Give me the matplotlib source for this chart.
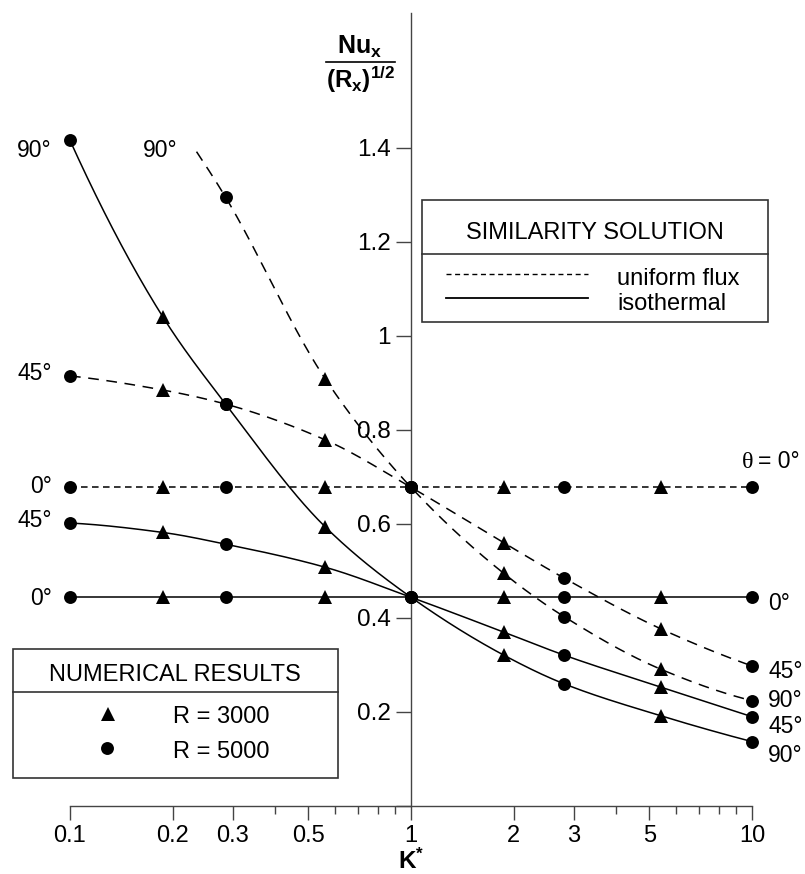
import numpy as np
import matplotlib
matplotlib.use('Agg')
import matplotlib.pyplot as plt
from matplotlib.patches import Rectangle
from matplotlib.ticker import NullFormatter

plt.rcParams['font.family'] = ['Liberation Sans', 'DejaVu Sans']
plt.rcParams['mathtext.fontset'] = 'custom'
plt.rcParams['mathtext.rm'] = 'Liberation Sans'
plt.rcParams['mathtext.bf'] = 'Liberation Sans:bold'
plt.rcParams['mathtext.it'] = 'Liberation Sans:italic'

# ---------------- data ----------------
k_tri = [0.187, 0.56, 1.87, 5.4]          # R = 3000 (triangles)
k_circ = [0.1, 0.286, 1.0, 2.81, 10.0]    # R = 5000 (circles)

# uniform flux (dashed)
flux0_tri = [0.678, 0.678, 0.678, 0.678]
flux0_circ = [0.678, 0.678, 0.678, 0.678, 0.678]
flux45_tri = [0.885, 0.779, 0.560, 0.377]
flux45_circ = [0.915, 0.855, 0.678, 0.485, 0.298]
flux90_k_tri = [0.56, 1.87, 5.4]
flux90_tri = [0.909, 0.495, 0.291]
flux90_k_circ = [0.286, 1.0, 2.81, 10.0]
flux90_circ = [1.295, 0.678, 0.403, 0.224]
flux90_start_k = [0.235]
flux90_start = [1.392]

# isothermal (solid)
iso0_tri = [0.444, 0.444, 0.444, 0.444]
iso0_circ = [0.444, 0.444, 0.444, 0.444, 0.444]
iso45_tri = [0.582, 0.508, 0.370, 0.253]
iso45_circ = [0.602, 0.557, 0.444, 0.321, 0.190]
iso90_tri = [1.041, 0.594, 0.321, 0.192]
iso90_circ = [1.416, 0.855, 0.444, 0.260, 0.137]

x_major = [0.1, 0.2, 0.3, 0.5, 1, 2, 3, 5, 10]
x_major_labels = ['0.1', '0.2', '0.3', '0.5', '1', '2', '3', '5', '10']
x_minor = [0.4, 0.6, 0.7, 0.8, 0.9, 4, 6, 7, 8, 9]
y_ticks = [0, 0.2, 0.4, 0.6, 0.8, 1.0, 1.2, 1.4]
y_labels = ['', '0.2', '0.4', '0.6', '0.8', '1', '1.2', '1.4']

# ---------------- helpers ----------------
def pchip(x, y, xn):
    x = np.asarray(x, float); y = np.asarray(y, float)
    h = np.diff(x); d = np.diff(y) / h
    n = len(x)
    m = np.zeros(n)
    for i in range(1, n - 1):
        if d[i - 1] * d[i] > 0:
            w1 = 2 * h[i] + h[i - 1]; w2 = h[i] + 2 * h[i - 1]
            m[i] = (w1 + w2) / (w1 / d[i - 1] + w2 / d[i])
    def endslope(h0, h1, d0, d1):
        s = ((2 * h0 + h1) * d0 - h0 * d1) / (h0 + h1)
        if np.sign(s) != np.sign(d0):
            s = 0.0
        elif np.sign(d0) != np.sign(d1) and abs(s) > abs(3 * d0):
            s = 3 * d0
        return s
    if n > 2:
        m[0] = endslope(h[0], h[1], d[0], d[1])
        m[-1] = endslope(h[-1], h[-2], d[-1], d[-2])
    else:
        m[:] = d[0]
    idx = np.clip(np.searchsorted(x, xn) - 1, 0, n - 2)
    t = (xn - x[idx]) / h[idx]
    h00 = 2 * t**3 - 3 * t**2 + 1
    h10 = t**3 - 2 * t**2 + t
    h01 = -2 * t**3 + 3 * t**2
    h11 = t**3 - t**2
    return h00 * y[idx] + h10 * h[idx] * m[idx] + h01 * y[idx + 1] + h11 * h[idx] * m[idx + 1]

def curve(ax, ks, vs, **kw):
    pts = sorted(set(zip(ks, vs)))
    k = np.array([p[0] for p in pts]); v = np.array([p[1] for p in pts])
    lk = np.log10(k)
    grid = np.linspace(lk[0], lk[-1], 400)
    ax.plot(10 ** grid, pchip(lk, v, grid), color='black', lw=1.1,
            clip_on=False, zorder=2, **kw)

W, H = 805, 874
fig = plt.figure(figsize=(W / 100, H / 100), dpi=100)
ax = fig.add_axes([70 / W, 1 - 806 / H, 682 / W, 793 / H])
ax.set_xscale('log')
ax.set_xlim(0.1, 10)
ax.set_ylim(0, 1.687)
ax.patch.set_visible(False)

for s in ['top', 'right']:
    ax.spines[s].set_visible(False)
ax.spines['left'].set_position(('data', 1))
for s in ['left', 'bottom']:
    ax.spines[s].set_color('#444444')
    ax.spines[s].set_linewidth(1.0)

ax.set_xticks(x_major)
ax.set_xticklabels(x_major_labels)
ax.set_xticks(x_minor, minor=True)
ax.xaxis.set_minor_formatter(NullFormatter())
ax.tick_params(axis='x', which='major', direction='out', length=10, width=1,
               pad=4, labelsize=17, color='#444444')
ax.tick_params(axis='x', which='minor', direction='out', length=6, width=1,
               color='#444444')
ax.set_yticks(y_ticks)
ax.set_yticklabels(y_labels)
ax.yaxis.set_minor_locator(matplotlib.ticker.NullLocator())
ax.tick_params(axis='y', direction='out', length=10.5, width=1, pad=4,
               labelsize=17.5, color='#444444')

dash_long = (7.0, 5.0)
dash_short = (4.3, 2.9)

# curves
curve(ax, k_tri + k_circ, flux0_tri + flux0_circ, dashes=dash_short)
curve(ax, k_tri + k_circ, flux45_tri + flux45_circ, dashes=dash_long)
curve(ax, flux90_start_k + flux90_k_tri + flux90_k_circ,
      flux90_start + flux90_tri + flux90_circ, dashes=dash_long)
curve(ax, k_tri + k_circ, iso0_tri + iso0_circ)
curve(ax, k_tri + k_circ, iso45_tri + iso45_circ)
curve(ax, k_tri + k_circ, iso90_tri + iso90_circ)

# markers
mk_tri = dict(marker='^', ms=10, mew=0, color='black', ls='none', clip_on=False, zorder=3)
mk_circ = dict(marker='o', ms=9.3, mew=0, color='black', ls='none', clip_on=False, zorder=3)
for yt in [flux0_tri, flux45_tri, iso0_tri, iso45_tri, iso90_tri]:
    ax.plot(k_tri, yt, **mk_tri)
ax.plot(flux90_k_tri, flux90_tri, **mk_tri)
for yc in [flux0_circ, flux45_circ, iso0_circ, iso45_circ, iso90_circ]:
    ax.plot(k_circ, yc, **mk_circ)
ax.plot(flux90_k_circ, flux90_circ, **mk_circ)

# angle labels (anchored to data points, offsets in pixels)
def lab(txt, xy, dx, dy, ha):
    ax.annotate(txt, xy=xy, xytext=(dx, dy), textcoords='offset pixels',
                ha=ha, va='baseline', fontsize=16.5, annotation_clip=False)

lab('90°', (k_circ[0], iso90_circ[0]), -18, -16.3, 'right')
lab('90°', (flux90_start_k[0], flux90_start[0]), -18.7, -5.3, 'right')
lab('45°', (k_circ[0], flux45_circ[0]), -18, -4, 'right')
lab('0°', (k_circ[0], flux0_circ[0]), -18, -5.7, 'right')
lab('45°', (k_circ[0], iso45_circ[0]), -18, -3.7, 'right')
lab('0°', (k_circ[0], iso0_circ[0]), -18, -7.7, 'right')
lab('0°', (k_circ[-1], iso0_circ[-1]), 16, -12.7, 'left')
lab('45°', (k_circ[-1], flux45_circ[-1]), 16, -12, 'left')
lab('90°', (k_circ[-1], flux90_circ[-1]), 16, -6.3, 'left')
lab('45°', (k_circ[-1], iso45_circ[-1]), 16, -16.3, 'left')
lab('90°', (k_circ[-1], iso90_circ[-1]), 16, -20.3, 'left')
ax.annotate('θ', xy=(k_circ[-1], flux0_circ[-1]), xytext=(-10, 19.3),
            textcoords='offset pixels', ha='left', va='baseline', fontsize=17.5,
            family='Liberation Serif', annotation_clip=False)
ax.annotate('= 0°', xy=(k_circ[-1], flux0_circ[-1]), xytext=(6, 19.3),
            textcoords='offset pixels', ha='left', va='baseline', fontsize=16.5,
            annotation_clip=False)

# ---------------- overlay in pixel coordinates ----------------
ov = fig.add_axes([0, 0, 1, 1])
ov.set_xlim(0, W)
ov.set_ylim(H, 0)
ov.axis('off')

# y-axis label as fraction
ov.text(360, 54, r'$\mathbf{Nu}_{\mathbf{x}}$', ha='center', va='baseline', fontsize=18)
ov.plot([326, 395], [62.3, 62.3], color='black', lw=1.2)
ov.text(360.5, 88, r'$\mathbf{(R}_{\mathbf{x}}\mathbf{)}^{\mathbf{1/2}}$',
        ha='center', va='baseline', fontsize=17.5)
# x-axis label
ov.text(411, 869, r'$\mathbf{K^{*}}$', ha='center', va='baseline', fontsize=17.5)

# similarity solution box
ov.add_patch(Rectangle((422, 200), 346, 122, fill=True, facecolor='white',
                       edgecolor='#333333', lw=1.2))
ov.plot([422, 768], [254, 254], color='#333333', lw=1.2)
ov.text(595, 239, 'SIMILARITY SOLUTION', ha='center', va='baseline', fontsize=17)
ov.plot([446, 588], [274, 274], color='black', lw=1.0, dashes=(3.6, 2.6))
ov.plot([446, 588], [298, 298], color='black', lw=1.3)
ov.text(617, 285, 'uniform flux', ha='left', va='baseline', fontsize=17)
ov.text(617, 310, 'isothermal', ha='left', va='baseline', fontsize=17)

# numerical results box
ov.add_patch(Rectangle((13, 649), 325, 129, fill=True, facecolor='white',
                       edgecolor='#333333', lw=1.2))
ov.plot([13, 338], [692, 692], color='#333333', lw=1.2)
ov.text(175, 681, 'NUMERICAL RESULTS', ha='center', va='baseline', fontsize=17)
ov.plot([108], [714], marker='^', ms=10, mew=0, color='black', ls='none')
ov.plot([107], [747.5], marker='o', ms=9.3, mew=0, color='black', ls='none')
ov.text(173, 723, 'R = 3000', ha='left', va='baseline', fontsize=17)
ov.text(173, 758, 'R = 5000', ha='left', va='baseline', fontsize=17)

fig.savefig('out.png', dpi=100)
